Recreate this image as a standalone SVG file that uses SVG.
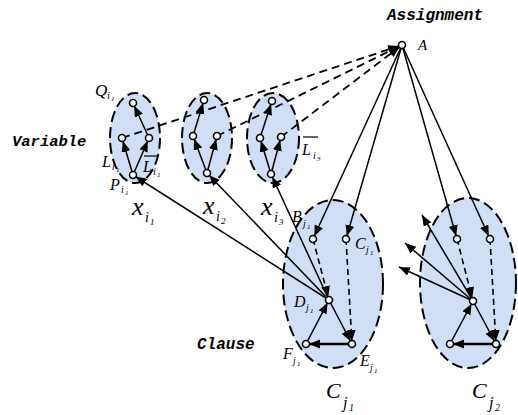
<svg xmlns="http://www.w3.org/2000/svg" width="518" height="415" viewBox="0 0 518 415">
<defs>
<marker id="ah" markerUnits="userSpaceOnUse" markerWidth="20" markerHeight="12" refX="14" refY="4.5" orient="auto">
<path d="M0,0 L11,4.5 L0,9 z" fill="#000"/>
</marker>
<marker id="at" markerUnits="userSpaceOnUse" markerWidth="14" markerHeight="12" refX="11" refY="4.5" orient="auto">
<path d="M0,0 L11,4.5 L0,9 z" fill="#000"/>
</marker>
<style>
.grp{fill:#d0dff5;stroke:#000;stroke-width:2;stroke-dasharray:11 5}
.n{fill:#fff;stroke:#000;stroke-width:1.6}
.e{stroke:#000;stroke-width:1.5;fill:none;marker-end:url(#ah)}
.et{stroke:#000;stroke-width:1.5;fill:none;marker-end:url(#at)}
.d{stroke:#000;stroke-width:1.6;fill:none;stroke-dasharray:6 4;marker-end:url(#ah)}
.dl{stroke:#000;stroke-width:1.8;fill:none;stroke-dasharray:8 5}
.lab{font-family:"Liberation Serif",serif;font-style:italic;fill:#000}
.mono{font-family:"Liberation Mono",monospace;font-style:italic;font-weight:bold;fill:#000}
</style>
</defs>
<rect width="518" height="415" fill="#fff"/>
<g id="gadget-xi1"><ellipse class="grp" cx="135" cy="138" rx="25" ry="45"/></g>
<g id="gadget-xi2"><ellipse class="grp" cx="207" cy="138" rx="25" ry="45"/></g>
<g id="gadget-xi3"><ellipse class="grp" cx="273" cy="138" rx="26" ry="45"/></g>
<g id="gadget-cj1"><ellipse class="grp" cx="333" cy="284" rx="50" ry="84"/></g>
<g id="gadget-cj2"><ellipse class="grp" cx="468" cy="283" rx="48" ry="85"/></g>
<g id="connectors">
<line class="dl" x1="122" y1="138" x2="402" y2="45" marker-end="url(#ah)"/>
<line class="dl" x1="217" y1="136" x2="402" y2="45" marker-end="url(#ah)"/>
<line class="dl" x1="281" y1="137" x2="402" y2="45" marker-end="url(#ah)"/>
<line class="e" x1="133" y1="175" x2="122" y2="138"/>
<line class="e" x1="133" y1="175" x2="149" y2="138"/>
<line class="e" x1="149" y1="138" x2="133" y2="103"/>
<line class="e" x1="207" y1="173" x2="193" y2="136"/>
<line class="e" x1="207" y1="173" x2="217" y2="136"/>
<line class="e" x1="193" y1="136" x2="204" y2="100"/>
<line class="e" x1="271" y1="174" x2="260" y2="138"/>
<line class="e" x1="271" y1="174" x2="281" y2="137"/>
<line class="e" x1="260" y1="138" x2="272" y2="101"/>
<line class="e" x1="402" y1="45" x2="313" y2="239"/>
<line class="e" x1="402" y1="45" x2="346" y2="239"/>
<line class="e" x1="402" y1="45" x2="457" y2="239"/>
<line class="e" x1="402" y1="45" x2="490" y2="239"/>
<line class="d" x1="313" y1="239" x2="329" y2="300"/>
<line class="d" x1="346" y1="239" x2="352" y2="344"/>
<line class="e" x1="329" y1="300" x2="352" y2="344"/>
<line class="e" x1="306" y1="344" x2="329" y2="300"/>
<line class="e" x1="352" y1="344" x2="306" y2="344" style="stroke-width:2.5"/>
<line class="e" x1="329" y1="300" x2="133" y2="175"/>
<line class="e" x1="329" y1="300" x2="207" y2="173"/>
<line class="e" x1="329" y1="300" x2="271" y2="174"/>
<line class="d" x1="457" y1="239" x2="473" y2="301"/>
<line class="d" x1="490" y1="239" x2="496" y2="344"/>
<line class="e" x1="473" y1="301" x2="496" y2="344"/>
<line class="e" x1="450" y1="344" x2="473" y2="301"/>
<line class="e" x1="496" y1="344" x2="450" y2="344" style="stroke-width:2.5"/>
<line class="et" x1="473" y1="301" x2="422" y2="215"/>
<line class="et" x1="473" y1="301" x2="405" y2="243"/>
<line class="et" x1="473" y1="301" x2="399" y2="267"/>
</g>
<g id="A"><circle class="n" cx="402" cy="45" r="3.5"/></g>
<g id="Q1"><circle class="n" cx="133" cy="103" r="3.5"/></g>
<g id="L1"><circle class="n" cx="122" cy="138" r="3.5"/></g>
<g id="Lb1"><circle class="n" cx="149" cy="138" r="3.5"/></g>
<g id="P1"><circle class="n" cx="133" cy="175" r="3.5"/></g>
<g id="Q2"><circle class="n" cx="204" cy="100" r="3.5"/></g>
<g id="L2"><circle class="n" cx="193" cy="136" r="3.5"/></g>
<g id="Lb2"><circle class="n" cx="217" cy="136" r="3.5"/></g>
<g id="P2"><circle class="n" cx="207" cy="173" r="3.5"/></g>
<g id="Q3"><circle class="n" cx="272" cy="101" r="3.5"/></g>
<g id="L3"><circle class="n" cx="260" cy="138" r="3.5"/></g>
<g id="Lb3"><circle class="n" cx="281" cy="137" r="3.5"/></g>
<g id="P3"><circle class="n" cx="271" cy="174" r="3.5"/></g>
<g id="B1"><circle class="n" cx="313" cy="239" r="3.5"/></g>
<g id="C1"><circle class="n" cx="346" cy="239" r="3.5"/></g>
<g id="D1"><circle class="n" cx="329" cy="300" r="3.5"/></g>
<g id="F1"><circle class="n" cx="306" cy="344" r="3.5"/></g>
<g id="E1"><circle class="n" cx="352" cy="344" r="3.5"/></g>
<g id="B2"><circle class="n" cx="457" cy="239" r="3.5"/></g>
<g id="C2"><circle class="n" cx="490" cy="239" r="3.5"/></g>
<g id="D2"><circle class="n" cx="473" cy="301" r="3.5"/></g>
<g id="F2"><circle class="n" cx="450" cy="344" r="3.5"/></g>
<g id="E2"><circle class="n" cx="496" cy="344" r="3.5"/></g>
<g id="labels">
<text class="mono" x="387" y="20" font-size="16">Assignment</text>
<text class="mono" x="12" y="146" font-size="15.5">Variable</text>
<text class="mono" x="197" y="349" font-size="16">Clause</text>
<text class="lab" x="418" y="50" font-size="15">A</text>
<text class="lab" x="95" y="96" font-size="17">Q</text><text class="lab" x="107" y="99" font-size="11">i</text><text class="lab" x="111" y="101" font-size="7">1</text>
<text class="lab" x="102" y="167" font-size="16">L</text><text class="lab" x="112" y="170" font-size="10">i</text><text class="lab" x="116" y="172" font-size="7">1</text>
<line x1="144" y1="156" x2="158" y2="156" stroke="#000" stroke-width="1.2"/>
<text class="lab" x="143" y="172" font-size="16">L</text><text class="lab" x="153" y="175" font-size="10">i</text><text class="lab" x="157" y="177" font-size="7">1</text>
<text class="lab" x="110" y="190" font-size="16">P</text><text class="lab" x="121" y="193" font-size="10">i</text><text class="lab" x="125" y="195" font-size="7">1</text>
<line x1="303" y1="137" x2="318" y2="137" stroke="#000" stroke-width="1.2"/>
<text class="lab" x="302" y="155" font-size="16">L</text><text class="lab" x="313" y="159" font-size="10">i</text><text class="lab" x="317" y="161" font-size="7">3</text>
<text class="lab" x="132" y="215" font-size="26">x</text><text class="lab" x="145" y="222" font-size="14">i</text><text class="lab" x="150" y="225" font-size="9">1</text>
<text class="lab" x="203" y="214" font-size="26">x</text><text class="lab" x="216" y="221" font-size="14">i</text><text class="lab" x="221" y="224" font-size="9">2</text>
<text class="lab" x="261" y="215" font-size="26">x</text><text class="lab" x="274" y="222" font-size="14">i</text><text class="lab" x="279" y="225" font-size="9">3</text>
<text class="lab" x="292" y="222" font-size="16">B</text><text class="lab" x="303" y="227" font-size="10">j</text><text class="lab" x="307" y="229" font-size="7">1</text>
<text class="lab" x="355" y="249" font-size="16">C</text><text class="lab" x="366" y="253" font-size="10">j</text><text class="lab" x="370" y="255" font-size="7">1</text>
<text class="lab" x="294" y="307" font-size="16">D</text><text class="lab" x="306" y="311" font-size="10">j</text><text class="lab" x="310" y="313" font-size="7">1</text>
<text class="lab" x="283" y="359" font-size="16">F</text><text class="lab" x="293" y="364" font-size="10">j</text><text class="lab" x="297" y="366" font-size="7">1</text>
<text class="lab" x="360" y="366" font-size="16">E</text><text class="lab" x="370" y="371" font-size="10">j</text><text class="lab" x="374" y="373" font-size="7">1</text>
<text class="lab" x="326" y="398" font-size="22">C</text><text class="lab" x="343" y="408" font-size="16">j</text><text class="lab" x="349" y="411" font-size="10">1</text>
<text class="lab" x="472" y="398" font-size="22">C</text><text class="lab" x="489" y="408" font-size="16">j</text><text class="lab" x="495" y="411" font-size="10">2</text>
</g>
</svg>
